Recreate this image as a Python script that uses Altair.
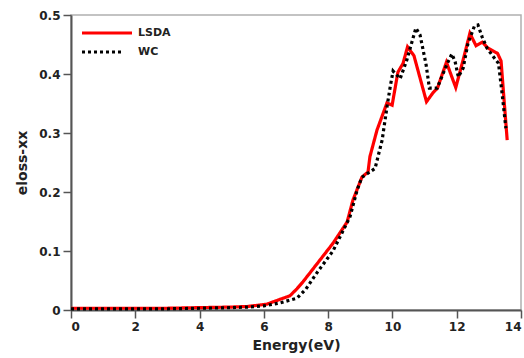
import altair as alt
import pandas as pd

# Energy-loss spectrum (xx component) for two exchange-correlation functionals
lsda_energy = [0, 1, 2, 3, 4, 5, 5.5, 6.1, 6.6, 6.81, 7.03, 7.22, 7.75, 8.15, 8.59,
               8.77, 9.05, 9.24, 9.3, 9.52, 9.83, 9.99, 10.17, 10.33, 10.47, 10.67,
               11.06, 11.26, 11.4, 11.68, 11.97, 12.2, 12.41, 12.6, 12.8, 12.97,
               13.27, 13.38, 13.57]
lsda_loss = [0.003, 0.003, 0.003, 0.003, 0.004, 0.005, 0.006, 0.010, 0.020, 0.024,
             0.036, 0.048, 0.085, 0.113, 0.149, 0.186, 0.225, 0.234, 0.260, 0.305,
             0.351, 0.347, 0.403, 0.418, 0.446, 0.431, 0.353, 0.368, 0.376, 0.420,
             0.377, 0.424, 0.469, 0.448, 0.454, 0.444, 0.435, 0.422, 0.288]

wc_energy = [0, 1, 2, 3, 4, 5, 5.5, 6.0, 6.5, 7.03, 7.3, 7.65, 8.15, 8.68, 8.9,
             9.05, 9.46, 9.68, 9.83, 9.93, 10.02, 10.24, 10.45, 10.73, 10.86,
             11.05, 11.15, 11.39, 11.7, 11.85, 11.95, 12.05, 12.2, 12.35, 12.55,
             12.66, 12.79, 12.94, 13.13, 13.3, 13.41, 13.53]
wc_loss = [0.002, 0.002, 0.002, 0.002, 0.003, 0.004, 0.005, 0.007, 0.012, 0.020,
           0.035, 0.063, 0.100, 0.158, 0.203, 0.225, 0.240, 0.288, 0.344, 0.378,
           0.405, 0.392, 0.424, 0.478, 0.466, 0.415, 0.376, 0.376, 0.417, 0.434,
           0.421, 0.395, 0.410, 0.452, 0.481, 0.483, 0.463, 0.444, 0.430, 0.418,
           0.368, 0.308]

series_names = ["LSDA", "WC"]
series_colors = ["#ff0000", "#000000"]
series_dash = [[1, 0], [3, 3]]

FONT = "DejaVu Sans"

df = pd.concat([
    pd.DataFrame({"energy": lsda_energy, "loss": lsda_loss, "series": series_names[0], "order": 0}),
    pd.DataFrame({"energy": wc_energy, "loss": wc_loss, "series": series_names[1], "order": 1}),
])

lines = alt.Chart(df).mark_line(strokeWidth=3.2).encode(
    x=alt.X("energy:Q", scale=alt.Scale(domain=[0, 14], nice=False),
            axis=alt.Axis(title="Energy(eV)", values=list(range(0, 15, 2)),
                          titlePadding=6)),
    y=alt.Y("loss:Q", scale=alt.Scale(domain=[0, 0.5], nice=False),
            axis=alt.Axis(title="eloss-xx", values=[0, 0.1, 0.2, 0.3, 0.4, 0.5],
                          labelExpr="datum.value == 0 ? '0' : format(datum.value, '.1f')",
                          titlePadding=9)),
    color=alt.Color("series:N", scale=alt.Scale(domain=series_names, range=series_colors),
                    legend=None),
    strokeDash=alt.StrokeDash("series:N",
                              scale=alt.Scale(domain=series_names, range=series_dash),
                              legend=None),
    order="order:Q",
)

# Legend drawn in the upper-left corner of the plot area
legend_marks = []
for i, (name, col, dash) in enumerate(zip(series_names, series_colors, series_dash)):
    row_y = 18 + 19 * i
    sample = alt.Chart(pd.DataFrame({"series": [name]})).mark_rule(
        color=col, strokeWidth=3, strokeDash=dash
    ).encode(x=alt.value(11), x2=alt.value(61 if i == 0 else 53), y=alt.value(row_y))
    label = alt.Chart(pd.DataFrame({"series": [name]})).mark_text(
        align="left", baseline="middle", font=FONT, fontSize=11,
        fontWeight="bold", color="#222222"
    ).encode(x=alt.value(67), y=alt.value(row_y), text="series:N")
    legend_marks += [sample, label]

chart = alt.layer(lines, *legend_marks).properties(
    width=450,
    height=295,
    padding={"left": 71, "top": 15, "right": 3, "bottom": 48},
    autosize=alt.AutoSizeParams(type="none"),
).configure_view(
    stroke="#b0b0b0", strokeWidth=1.5,
).configure_axis(
    domainColor="#555555", domainWidth=2,
    tickColor="#555555", tickWidth=1.5, tickSize=8,
    grid=False,
    labelFont=FONT, labelFontSize=12, labelFontWeight="bold", labelColor="#222222",
    titleFont=FONT, titleFontSize=14, titleFontWeight="bold", titleColor="#222222",
    labelPadding=3,
)

chart.save("out.html", embed_options={"renderer": "svg", "actions": False})
